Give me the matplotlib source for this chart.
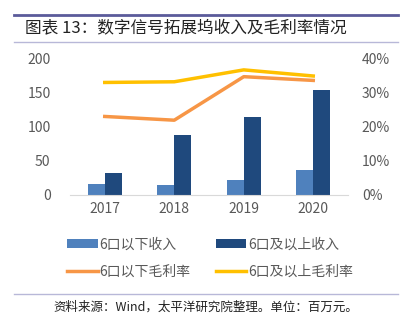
import matplotlib.pyplot as plt
import matplotlib.lines as mlines
import numpy as np

plt.rcParams['font.family'] = ['Noto Sans CJK SC', 'DejaVu Sans']

years = ['2017', '2018', '2019', '2020']
rev_below6 = [16, 14, 22, 37]
rev_above6 = [32, 88, 115, 155]
margin_below6 = [23.1, 22.0, 34.8, 33.7]
margin_above6 = [33.1, 33.3, 36.8, 35.0]

light_blue = '#4f81bd'
dark_blue = '#1f497d'
orange = '#f79646'
yellow = '#ffc000'
grey = '#595959'

fig = plt.figure(figsize=(4.08, 3.25), dpi=100)

# title bar
fig.add_artist(mlines.Line2D([14/408, 398/408], [1 - 15/325, 1 - 15/325], color='#5b5b9a', lw=2))
fig.add_artist(mlines.Line2D([14/408, 398/408], [1 - 42/325, 1 - 42/325], color='#b8b8d8', lw=1))
fig.text(25/408, 1 - 28/325, '图表 13：数字信号拓展坞收入及毛利率情况', fontsize=12, va='center', ha='left', color='#222222')

ax = fig.add_axes([70/408, 1 - 195/325, 278/408, 136/325])
x = np.arange(len(years))
w = 0.245
b1 = ax.bar(x - w/2, rev_below6, w, color=light_blue)
b2 = ax.bar(x + w/2, rev_above6, w, color=dark_blue)
ax.set_ylim(0, 200)
ax.set_xlim(-0.5, 3.5)
ax.set_yticks([0, 50, 100, 150, 200])
ax.set_xticks(x)
ax.set_xticklabels(years)
for s in ['top', 'right', 'left']:
    ax.spines[s].set_visible(False)
ax.spines['bottom'].set_color('#d9d9d9')
ax.tick_params(length=0, colors=grey, labelsize=10)
ax.tick_params(axis='y', pad=14)
ax.tick_params(axis='x', pad=5)

ax2 = ax.twinx()
l1, = ax2.plot(x, margin_below6, color=orange, lw=2.5)
l2, = ax2.plot(x, margin_above6, color=yellow, lw=2.5)
ax2.set_ylim(0, 40)
ax2.set_yticks([0, 10, 20, 30, 40])
ax2.set_yticklabels(['0%', '10%', '20%', '30%', '40%'])
for s in ['top', 'right', 'left', 'bottom']:
    ax2.spines[s].set_visible(False)
ax2.tick_params(length=0, colors=grey, labelsize=10, pad=10)

# legend filled column by column, so order gives rows: bars on top, lines below
fig.legend([b1, l1, b2, l2], ['6口以下收入', '6口以下毛利率', '6口及以上收入', '6口及以上毛利率'],
           loc='center', bbox_to_anchor=(0.515, 1 - 258/325), ncol=2, frameon=False,
           fontsize=10, labelcolor=grey, handlelength=2.2, handleheight=0.6, handletextpad=0.15,
           columnspacing=1.8, labelspacing=0.9)

fig.add_artist(mlines.Line2D([14/408, 398/408], [1 - 294/325, 1 - 294/325], color='#b8b8d8', lw=1))
fig.text(53/408, 1 - 307/325, '资料来源：Wind，太平洋研究院整理。单位：百万元。', fontsize=9,
         style='italic', va='center', ha='left', color='#222222')

fig.savefig('out.png', dpi=100)
